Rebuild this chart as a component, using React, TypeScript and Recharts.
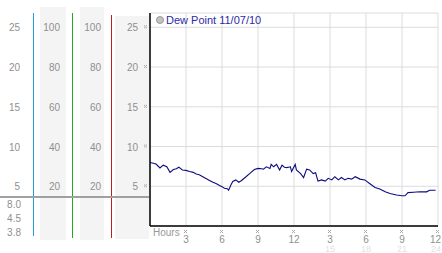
import React from "react";
import { LineChart, Line, XAxis, YAxis, CartesianGrid } from "recharts";

// hours since midnight and dew point (°C)
const hours = [
  0, 0.28, 0.5, 0.83, 1.1, 1.4, 1.67, 1.95, 2.2, 2.4, 2.7, 3.0, 3.3, 3.6, 3.85, 4.1, 4.4, 4.7, 5.0,
  5.25, 5.5, 5.8, 6.0, 6.2, 6.45, 6.55, 6.75, 6.9, 7.15, 7.4, 7.6, 8.0, 8.3, 8.7, 9.0, 9.3, 9.45,
  9.7, 10.0, 10.1, 10.3, 10.55, 10.8, 11.0, 11.2, 11.4, 11.7, 11.8, 12.1, 12.2, 12.55, 12.8, 13.05,
  13.3, 13.6, 13.8, 14.0, 14.3, 14.6, 14.85, 15.15, 15.4, 15.7, 15.95, 16.25, 16.5, 16.8, 17.1,
  17.5, 17.9, 18.3, 18.75, 19.15, 19.6, 20.0, 20.55, 21.0, 21.25, 21.5, 21.95, 22.5, 23.05, 23.3,
  23.8,
];
const dewPoint = [
  8.0, 7.9, 7.8, 7.3, 7.65, 7.45, 6.75, 7.1, 7.2, 7.4, 7.05, 7.0, 6.85, 6.75, 6.55, 6.45, 6.2, 5.95,
  5.7, 5.5, 5.35, 5.1, 4.95, 4.75, 4.7, 4.5, 5.2, 5.6, 5.8, 5.5, 5.7, 6.2, 6.6, 7.1, 7.25, 7.2, 7.15,
  7.45, 7.25, 7.75, 7.45, 7.75, 7.05, 7.65, 7.4, 7.35, 7.45, 6.85, 7.75, 7.05, 6.6, 6.1, 7.15, 7.05,
  6.6, 6.7, 5.65, 5.8, 5.65, 6.0, 5.8, 6.2, 5.8, 6.1, 5.8, 6.0, 5.9, 6.2, 5.9, 5.8, 5.35, 4.85, 4.65,
  4.3, 4.1, 3.9, 3.8, 3.8, 4.2, 4.25, 4.3, 4.3, 4.5, 4.5,
];

const hourTicks = [3, 6, 9, 12, 15, 18, 21, 24];
const tempTicks = [5, 10, 15, 20, 25];
const humTicks = [20, 40, 60, 80, 100];
const summary = ["8.0", "4.5", "3.8"];
const seriesName = "Dew Point 11/07/10";

const data = hours.map((h, i) => ({ h, dew: dewPoint[i] }));

const FONT = "'Liberation Sans', Arial, sans-serif";
const GREY = "#8f8f8f";

function Mark({ x, y }: { x: number; y: number }) {
  // tiny checker glyph used as tick mark
  const px = [
    [0, 0],
    [2, 0],
    [1, 1],
    [0, 2],
    [2, 2],
  ];
  return (
    <g>
      {px.map(([dx, dy], i) => (
        <rect key={i} x={x + dx} y={y + dy} width={1} height={1} fill="#aaa" />
      ))}
    </g>
  );
}

const yTick = (mark: boolean) => (props: any) => {
  const { x, y, payload } = props;
  return (
    <g>
      <text x={x} y={y + 4} textAnchor="end" fontSize={10} fontFamily={FONT} fill={GREY}>
        {payload.value}
      </text>
      {mark && <Mark x={x + 6} y={y - 2} />}
    </g>
  );
};

function HourTick(props: any) {
  const { x, y, payload } = props;
  const v = payload.value as number;
  const last = v === 24;
  return (
    <g>
      <Mark x={x - 2} y={y + 4} />
      <text
        x={last ? x + 3 : x}
        y={y + 17}
        textAnchor={last ? "end" : "middle"}
        fontSize={10}
        fontFamily={FONT}
        fill={GREY}
      >
        {v > 12 ? v - 12 : v}
      </text>
      {v > 12 && (
        <text
          x={last ? x + 3 : x}
          y={y + 26}
          textAnchor={last ? "end" : "middle"}
          fontSize={9}
          fontFamily={FONT}
          fill="#e2e2e2"
        >
          {v}
        </text>
      )}
    </g>
  );
}

const band = (left: number, top: number, width: number, height: number) => (
  <div style={{ position: "absolute", left, top, width, height, background: "#f4f4f4" }} />
);
const vline = (left: number, top: number, height: number, color: string) => (
  <div style={{ position: "absolute", left, top, width: 1, height, background: color }} />
);

export default function App() {
  return (
    <div
      style={{
        position: "absolute",
        left: 0,
        top: 0,
        width: 442,
        height: 253,
        background: "#fff",
        overflow: "hidden",
      }}
    >
      {band(40, 7, 26, 233)}
      {band(80, 7, 24, 233)}
      {band(115, 16, 34, 223)}
      {vline(33, 13, 223, "#1f9fd6")}
      {vline(72, 13, 225, "#22a822")}
      {vline(111, 15, 223, "#c41c1c")}
      <div
        style={{
          position: "absolute",
          left: 0,
          top: 196,
          width: 149,
          height: 2,
          background: "#a0a0a0",
        }}
      />
      {summary.map((s, i) => (
        <div
          key={s}
          style={{
            position: "absolute",
            left: 0,
            width: 21,
            top: 199 + i * 14,
            textAlign: "right",
            fontSize: 10,
            fontFamily: FONT,
            color: GREY,
            lineHeight: "12px",
          }}
        >
          {s}
        </div>
      ))}
      <div
        style={{
          position: "absolute",
          left: 153,
          top: 227,
          fontSize: 10,
          fontFamily: FONT,
          color: "#999",
          lineHeight: "11px",
        }}
      >
        Hours
      </div>
      <div style={{ position: "absolute", left: 0, top: 0 }}>
        <LineChart width={442} height={253} data={data} margin={{ top: 13, right: 4, bottom: 0, left: 0 }}>
          <CartesianGrid yAxisId="a_main" stroke="#dcdcdc" strokeWidth={1} />
          <XAxis
            dataKey="h"
            type="number"
            domain={[0, 24]}
            ticks={hourTicks}
            height={27}
            tickLine={false}
            tickSize={0}
            tickMargin={0}
            axisLine={{ stroke: "#000", strokeWidth: 1.5 }}
            tick={<HourTick />}
            interval={0}
          />
          <YAxis
            yAxisId="a_main"
            type="number"
            domain={[0, 26.8]}
            allowDataOverflow
            ticks={tempTicks}
            width={38}
            tickLine={false}
            tickSize={0}
            tickMargin={12}
            axisLine={{ stroke: "#000", strokeWidth: 1.5 }}
            tick={yTick(true)}
            interval={0}
          />
          <YAxis
            yAxisId="b_hum"
            type="number"
            domain={[0, 107.2]}
            allowDataOverflow
            ticks={humTicks}
            width={39}
            tickLine={false}
            tickSize={0}
            tickMargin={11}
            axisLine={false}
            tick={yTick(false)}
            interval={0}
          />
          <YAxis
            yAxisId="c_hum"
            type="number"
            domain={[0, 107.2]}
            allowDataOverflow
            ticks={humTicks}
            width={39}
            tickLine={false}
            tickSize={0}
            tickMargin={13}
            axisLine={false}
            tick={yTick(false)}
            interval={0}
          />
          <YAxis
            yAxisId="d_temp"
            type="number"
            domain={[0, 26.8]}
            allowDataOverflow
            ticks={tempTicks}
            width={34}
            tickLine={false}
            tickSize={0}
            tickMargin={14}
            axisLine={false}
            tick={yTick(false)}
            interval={0}
          />
          <Line
            yAxisId="a_main"
            dataKey="dew"
            type="linear"
            stroke="#0c0c80"
            strokeWidth={1.1}
            dot={false}
            isAnimationActive={false}
          />
        </LineChart>
      </div>
      <div
        style={{
          position: "absolute",
          left: 156,
          top: 13,
          display: "flex",
          alignItems: "center",
          fontSize: 11,
          fontFamily: FONT,
          color: "#2b2ba8",
          lineHeight: "14px",
        }}
      >
        <span
          style={{
            width: 6,
            height: 6,
            borderRadius: 4,
            background: "#c4c4c4",
            border: "1px solid #999",
            marginRight: 2,
          }}
        />
        {seriesName}
      </div>
    </div>
  );
}
